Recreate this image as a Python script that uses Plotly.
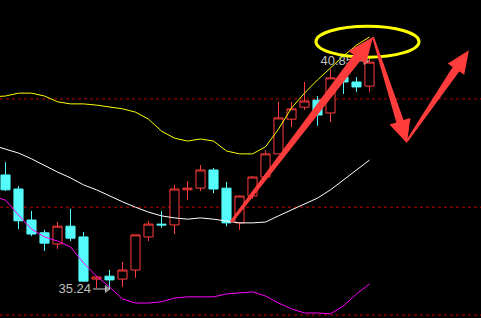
import math
import plotly.graph_objects as go

# ---- data (prices) ----
idx = list(range(29))
opens = [38.00, 37.66, 36.91, 36.60, 36.33, 36.76, 36.50, 35.48, 35.55, 35.48,
         35.70, 36.50, 36.81, 36.79, 37.64, 37.68, 38.12, 37.68, 36.84, 37.49,
         37.95, 38.51, 39.35, 39.64, 39.81, 39.50, 40.37, 40.25, 40.15]
highs = [38.31, 37.73, 37.13, 36.67, 36.86, 37.18, 36.62, 35.55, 35.70, 35.89,
         36.55, 36.89, 37.13, 37.76, 37.85, 38.24, 38.17, 37.83, 37.50, 37.97,
         38.60, 39.77, 39.77, 40.25, 39.91, 40.56, 40.49, 40.37, 40.85]
lows = [37.61, 36.69, 36.52, 36.16, 36.21, 36.40, 35.42, 35.26, 35.24, 35.29,
        35.51, 36.40, 36.72, 36.57, 37.39, 37.61, 37.56, 36.76, 36.67, 37.42,
        37.95, 38.51, 39.16, 39.57, 39.19, 39.28, 39.96, 40.01, 40.01]
closes = [37.64, 36.89, 36.57, 36.35, 36.76, 36.47, 35.43, 35.53, 35.46, 35.70,
          36.55, 36.81, 36.79, 37.66, 37.68, 38.12, 37.66, 36.84, 37.49, 37.95,
          38.51, 39.38, 39.60, 39.79, 39.45, 40.35, 40.25, 40.13, 40.73]

band_idx = list(range(-1, 29))
upper = [39.89, 39.91, 39.98, 39.98, 39.91, 39.77, 39.72, 39.72, 39.69, 39.64,
         39.60, 39.52, 39.35, 39.06, 38.89, 38.82, 38.87, 38.82, 38.58, 38.51,
         38.51, 38.68, 39.11, 39.62, 39.98, 40.30, 40.59, 40.88, 41.14, 41.34]
middle = [38.72, 38.63, 38.53, 38.39, 38.22, 38.07, 37.93, 37.76, 37.64, 37.49,
          37.35, 37.22, 37.10, 37.01, 36.96, 36.93, 36.96, 36.93, 36.89, 36.84,
          36.84, 36.86, 37.01, 37.15, 37.30, 37.44, 37.64, 37.88, 38.14, 38.36]
lower = [37.49, 37.39, 37.03, 36.69, 36.50, 36.40, 36.26, 35.87, 35.55, 35.29,
         35.00, 34.90, 34.90, 34.93, 35.02, 35.05, 35.05, 35.05, 35.12, 35.14,
         35.17, 35.07, 34.90, 34.76, 34.66, 34.66, 34.64, 34.83, 35.12, 35.36]

grid_prices = [39.84, 37.22, 34.61]
low_label = "35.24"
high_label = "40.85"

# ---- layout geometry ----
W, H = 481, 318
XR = [-0.423, 36.577]
YR = [34.538, 42.234]
sx = W / (XR[1] - XR[0])
sy = H / (YR[1] - YR[0])


def to_px(x, y):
    return ((x - XR[0]) * sx, (YR[1] - y) * sy)


def to_data(px, py):
    return (px / sx + XR[0], YR[1] - py / sy)


def arrow_path(tail, tip, wt, wb, hl, hw):
    tx, ty = to_px(*tail)
    px, py = to_px(*tip)
    dx, dy = px - tx, py - ty
    L = math.hypot(dx, dy)
    ux, uy = dx / L, dy / L
    nx, ny = -uy, ux
    bx, by = px - ux * hl, py - uy * hl
    pts = [(tx + nx * wt, ty + ny * wt), (bx + nx * wb, by + ny * wb),
           (bx + nx * hw, by + ny * hw), (px, py),
           (bx - nx * hw, by - ny * hw), (bx - nx * wb, by - ny * wb),
           (tx - nx * wt, ty - ny * wt)]
    d = []
    for k, (a, b) in enumerate(pts):
        X, Y = to_data(a, b)
        d.append(("M" if k == 0 else "L") + f"{X:.4f},{Y:.4f}")
    return " ".join(d) + " Z"


fig = go.Figure()

fig.add_trace(go.Scatter(x=band_idx, y=upper, mode="lines",
                         line=dict(color="#ffff00", width=1), hoverinfo="skip"))
fig.add_trace(go.Scatter(x=band_idx, y=middle, mode="lines",
                         line=dict(color="#ffffff", width=1), hoverinfo="skip"))
fig.add_trace(go.Scatter(x=band_idx, y=lower, mode="lines",
                         line=dict(color="#ff00ff", width=1), hoverinfo="skip"))

fig.add_trace(go.Candlestick(
    x=idx, open=opens, high=highs, low=lows, close=closes,
    increasing=dict(line=dict(color="#ff3b3b", width=1), fillcolor="#000000"),
    decreasing=dict(line=dict(color="#54fcfc", width=1), fillcolor="#54fcfc"),
    whiskerwidth=0, hoverinfo="skip"))

# low / high labels with small pointer arrows
fig.add_trace(go.Scatter(x=[6.58], y=[35.22], mode="text", text=[low_label],
                         textposition="middle left",
                         textfont=dict(color="#c0c0c0", size=13, family="Liberation Sans"),
                         hoverinfo="skip"))
fig.add_trace(go.Scatter(x=[6.73, 7.80], y=[35.24, 35.24], mode="lines+markers",
                         line=dict(color="#c0c0c0", width=1),
                         marker=dict(symbol=["line-ns", "triangle-right"], size=[0, 6],
                                     color="#c0c0c0"),
                         hoverinfo="skip"))
fig.add_trace(go.Scatter(x=[26.73], y=[40.73], mode="text", text=[high_label],
                         textposition="middle left",
                         textfont=dict(color="#c0c0c0", size=13, family="Liberation Sans"),
                         hoverinfo="skip"))
fig.add_trace(go.Scatter(x=[26.88, 27.70], y=[40.76, 40.76], mode="lines+markers",
                         line=dict(color="#c0c0c0", width=1),
                         marker=dict(symbol=["line-ns", "triangle-right"], size=[0, 6],
                                     color="#c0c0c0"),
                         hoverinfo="skip"))

shapes = []
for g in grid_prices:
    shapes.append(dict(type="line", xref="paper", x0=0, x1=1, yref="y", y0=g, y1=g,
                       line=dict(color="#c00000", width=1, dash="dot"), layer="below"))

shapes.append(dict(type="circle", xref="x", yref="y", x0=23.88, x1=31.81,
                   y0=40.85, y1=41.60, line=dict(color="#ffff00", width=3),
                   layer="above"))

arrow_color = "#ff3c3c"
for tail, tip, wt, wb, hl, hw in [
    ((17.35, 36.86), (28.27, 41.34), 1.5, 4.5, 26, 11),
    ((28.27, 41.34), (30.88, 38.77), 1.0, 3.8, 23, 11),
    ((30.88, 38.82), (35.65, 41.02), 1.0, 4.0, 23, 10),
]:
    shapes.append(dict(type="path", xref="x", yref="y",
                       path=arrow_path(tail, tip, wt, wb, hl, hw),
                       fillcolor=arrow_color, line=dict(width=0), layer="above"))

fig.update_layout(
    width=W, height=H, margin=dict(l=0, r=0, t=0, b=0),
    paper_bgcolor="#000000", plot_bgcolor="#000000",
    showlegend=False, shapes=shapes, boxgap=0.3, boxgroupgap=0,
    xaxis=dict(range=XR, visible=False, rangeslider=dict(visible=False), fixedrange=True),
    yaxis=dict(range=YR, visible=False, fixedrange=True),
)

fig.write_html("out.html")
